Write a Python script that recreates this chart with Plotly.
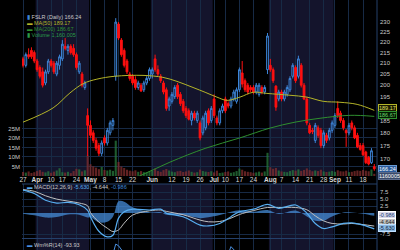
import math
import pandas as pd
import plotly.graph_objects as go

# ---------------- data ----------------
HOLIDAYS = ["2017-04-14", "2017-05-29", "2017-07-04", "2017-09-04"]
dates = [d.strftime("%Y-%m-%d") for d in pd.bdate_range("2017-03-27", "2017-09-22")
         if d.strftime("%Y-%m-%d") not in HOLIDAYS]

opens = [212, 209, 214, 216, 215, 211, 208, 206, 201, 206,
         211, 210, 205, 209, 212, 218, 216, 218, 217, 214,
         206, 205, 199, 187, 183, 180, 177, 175, 172, 178,
         176, 180, 183, 204, 229, 221, 216, 211, 205, 204,
         202.5, 199, 200, 198, 201, 203, 205, 212, 207, 204,
         201, 198, 191, 193, 195, 200, 196, 193, 190, 189,
         185, 188, 185, 184, 180, 182, 189, 185, 194, 186,
         184, 189, 194, 192, 191, 194, 193, 198, 205.5, 202,
         200, 199, 199, 197, 196, 199, 197, 207, 209, 207,
         199.6, 194, 197, 194, 196, 198, 204, 208, 204, 209,
         200, 194, 183, 181, 177, 182, 181, 175, 179, 178,
         181, 183, 190, 188, 185, 181, 180, 184, 182, 179,
         175, 175, 172.5, 170.5, 168.5, 167]
highs = [213, 215, 217, 217.5, 216, 212, 209, 208, 207, 212,
         212, 211, 211, 214, 221, 222, 219, 219, 219, 215,
         211, 206, 202, 190, 185, 181, 178, 176, 177, 179,
         182, 185, 186, 232, 230, 222, 217, 212, 206, 205,
         204, 202, 201, 202, 204, 208, 208, 214, 209, 205,
         202, 199, 195, 197, 200, 201, 197, 194, 191, 190,
         189, 189, 189, 185, 187, 189, 190, 191, 196, 187,
         190, 192, 195, 193, 195, 198, 199, 208, 211, 203,
         201, 200, 200, 201, 201, 200, 200, 224.5, 212, 208,
         200, 198, 198, 198, 200, 204, 210, 209, 213.5, 210,
         201, 195, 184, 182, 184, 183, 182, 181, 180, 182,
         185, 188, 193, 189, 186, 181.5, 184, 185, 183, 180,
         176, 176, 173, 171, 174, 168]
lows = [208, 208, 212, 212, 210, 206, 203, 199, 200, 205,
        208, 205, 204, 207, 211, 216, 214, 214, 213, 207,
        205, 199, 198, 171, 178, 176, 173, 171, 171, 175,
        175, 179, 181, 202, 221, 213, 208, 205, 202, 200,
        198, 198, 197, 197, 200, 202, 203, 206, 204, 201,
        196, 189, 189, 192, 194, 194, 191, 188, 186, 185,
        183, 185, 184, 177, 179, 181, 183, 184, 186, 183,
        183, 188, 188, 190, 190, 193, 192, 197, 199, 197,
        196, 197, 196, 196, 195, 196, 196, 205, 206, 201,
        189, 193, 193, 193, 195, 197, 203, 201, 203, 199,
        193.5, 183, 179.5, 179.5, 176, 178, 174, 174, 176, 177,
        180, 182, 186, 184, 181, 174.5, 179, 181, 177.5, 174,
        173, 171, 168, 167.5, 168, 165.5]
closes = [209, 214, 213, 213, 211, 207, 204, 200, 206, 211,
          209, 206, 210, 213, 219, 217, 218, 215, 214, 208,
          210, 200, 201, 183, 179, 177, 174, 172, 176, 176,
          181, 184, 185, 230, 222, 214, 209, 206, 203, 201,
          199, 201, 197.5, 201, 203, 207, 207, 207, 205, 202,
          197, 190, 194, 196, 199, 195, 192, 189, 187, 185.5,
          188, 186, 188, 178, 186, 188, 184, 190, 187, 184,
          189, 191, 189, 191, 194, 197, 198, 207, 200.5, 198,
          197, 198, 197, 200, 200, 197, 199, 223, 207, 202,
          190.5, 197, 194, 197, 199, 203, 209, 202, 212, 200,
          194, 184, 180, 180.5, 183, 179, 175, 180, 177, 181,
          184, 187, 187, 185, 182, 180, 183, 182, 178, 174.5,
          173.5, 171.5, 168.5, 168, 173, 166.24]
volumes_m = [2.1, 1.8, 2.4, 1.6, 2.0, 2.6, 3.1, 2.2, 1.9, 2.5,
             1.7, 2.3, 2.9, 4.1, 2.0, 1.8, 2.2, 1.5, 2.6, 3.8,
             3.5, 2.4, 3.0, 10.8, 6.2, 5.1, 4.4, 3.6, 4.8, 3.2,
             2.9, 3.3, 2.7, 18.6, 7.4, 5.0, 4.2, 3.3, 2.8, 2.5,
             3.0, 2.2, 2.6, 2.0, 1.9, 2.4, 2.8, 3.9, 2.6, 2.2,
             3.1, 3.7, 2.9, 2.3, 2.0, 2.5, 2.7, 2.1, 2.4, 2.9,
             2.2, 1.8, 2.0, 3.4, 2.6, 2.3, 2.1, 2.5, 1.9, 2.8,
             1.6, 1.8, 2.1, 2.4, 1.7, 2.0, 2.6, 3.9, 3.3, 2.5,
             2.2, 2.0, 1.7, 1.9, 2.3, 1.8, 2.4, 12.2, 4.6, 3.8,
             4.2, 2.9, 2.4, 2.2, 2.0, 2.6, 3.1, 2.8, 3.5, 2.7,
             3.2, 4.0, 3.1, 2.5, 2.9, 2.6, 3.3, 2.4, 2.1, 2.3,
             2.6, 2.2, 3.0, 2.5, 2.4, 2.8, 2.0, 2.2, 2.6, 2.9,
             2.7, 3.2, 2.8, 2.5, 3.4, 1.160005]

ma50_pos = [0, 10.7, 16.7, 21.4, 26.3, 32.7, 42.7, 49.8, 54.8, 60.5, 64.8, 69, 72.6,
            77.2, 81.9, 86.8, 95, 101, 106.8, 112.8, 118.9, 125]
ma50_vals = [184.3, 190.2, 196.6, 200.7, 202.7, 204.0, 204.4, 203.5, 201.7, 199.0, 196.9,
             194.8, 193.4, 194.8, 196.9, 196.4, 195.6, 194.8, 193.0, 192.6, 191.7, 189.17]
ma200_pos = [0, 20, 30, 40.6, 52.3, 64.8, 77.2, 87.9, 96.8, 105.7, 116.4, 125]
ma200_vals = [149.0, 155.0, 159.0, 163.2, 168.7, 173.9, 178.0, 181.9, 184.3, 185.9, 187.1, 186.67]

macd_pos = [0, 4, 8, 12, 16, 20, 23, 24, 27, 30, 32, 34, 36, 39, 45, 49, 51, 57, 63, 66,
            70, 74, 77, 82, 87, 91, 97, 101, 104, 107, 110, 114, 117, 121, 125]
macd_vals = [8.2, 7.0, 4.6, 3.6, 3.8, 3.0, 1.0, -1.3, -6.5, -8.5, -7.9, -1.8, 0.5, 1.4, 1.1,
             1.4, 0.0, -1.3, -4.3, -4.6, -3.7, -1.3, 0.5, 1.4, 3.1, 1.7, 2.9, 0.0, -3.7,
             -5.5, -4.9, -3.7, -3.5, -4.3, -5.63]
signal_vals = [8.4, 7.8, 6.2, 5.0, 4.3, 3.6, 2.6, 0.2, -3.2, -5.4, -6.6, -6.0, -3.6, -0.7, 0.8,
               1.1, 0.6, -0.6, -2.5, -3.1, -3.0, -1.8, -0.5, 0.9, 2.0, 2.0, 2.0, 1.2, -1.0,
               -2.8, -3.7, -3.9, -3.7, -4.1, -4.644]
hist_vals = [-0.2, -0.8, -1.6, -1.4, -0.5, -0.6, -1.6, -1.5, -3.3, -3.1, -1.3, 4.2, 4.1, 2.1,
             0.3, 0.3, -0.6, -0.7, -1.8, -1.5, -0.7, 0.5, 1.0, 0.5, 1.1, -0.3, 0.9, -1.2,
             -2.7, -2.7, -1.2, 0.2, 0.2, -0.2, -0.986]

wr_pos = [0, 28, 31, 33, 34, 36, 40, 70, 72, 74, 75, 77, 80, 125]
wr_vals = [-60, -95, -60, -12, -16, -45, -70, -80, -55, -18, -22, -50, -60, -93.93]

tick_dates = ["2017-03-27", "2017-04-03", "2017-04-10", "2017-04-17", "2017-04-24",
              "2017-05-01", "2017-05-08", "2017-05-15", "2017-05-22", "2017-06-01",
              "2017-06-12", "2017-06-19", "2017-06-26", "2017-07-03", "2017-07-10",
              "2017-07-17", "2017-07-24", "2017-08-01", "2017-08-07", "2017-08-14",
              "2017-08-21", "2017-08-28", "2017-09-01", "2017-09-11", "2017-09-18"]
tick_labels = ["27", "Apr", "10", "17", "24", "May", "8", "15", "22", "Jun", "12", "19", "26",
               "Jul", "10", "17", "24", "Aug", "7", "14", "21", "28", "Sep", "11", "18"]
month_bands = [("2017-04-03", "2017-04-28"), ("2017-06-01", "2017-06-30"),
               ("2017-08-01", "2017-08-31")]
price_ticks = [170, 175, 180, 185, 195, 200, 205, 210, 215, 220, 225, 230, 240]
vol_ticks_m = [5, 10, 15, 20, 25]
macd_ticks = [7.5, 5.0, 2.5, -7.5]

# ---------------- styling ----------------
BG = "#000000"
SHADE = "#14142c"
GRID = "#172a45"
BLUE = "#3d85d8"
RED = "#ff1010"
YELLOW = "#b4b428"
GREEN = "#2f8f2f"
TXT = "#c8c8c8"
FONT = "Liberation Sans"

n = len(dates)
idx = list(range(n))
XD = [22 / 400, 377 / 400]
XR = [-0.36, 125.97]

fig = go.Figure()

vol_colors = ["rgba(40,120,60,0.75)" if c >= o else "rgba(130,45,45,0.75)"
              for o, c in zip(opens, closes)]
fig.add_trace(go.Bar(x=idx, y=[v * 1e6 for v in volumes_m], marker=dict(color=vol_colors, line_width=0),
                     width=0.75, xaxis="x", yaxis="y", hoverinfo="skip"))

fig.add_trace(go.Candlestick(
    x=idx, open=opens, high=highs, low=lows, close=closes, xaxis="x", yaxis="y2",
    increasing=dict(line=dict(color=BLUE, width=1), fillcolor="rgba(0,0,0,0)"),
    decreasing=dict(line=dict(color=RED, width=1), fillcolor=RED),
    whiskerwidth=0))

fig.add_trace(go.Scatter(x=ma50_pos, y=ma50_vals, mode="lines", line=dict(color=YELLOW, width=1, shape="spline"),
                         xaxis="x", yaxis="y2"))
fig.add_trace(go.Scatter(x=ma200_pos, y=ma200_vals, mode="lines", line=dict(color=GREEN, width=1, shape="spline"),
                         xaxis="x", yaxis="y2"))

fig.add_trace(go.Scatter(x=macd_pos, y=hist_vals, mode="lines", line=dict(width=0, shape="spline"),
                         fill="tozeroy", fillcolor="rgba(70,140,215,0.75)", xaxis="x2", yaxis="y3"))
fig.add_trace(go.Scatter(x=macd_pos, y=signal_vals, mode="lines", line=dict(color="#c0c0c0", width=1, shape="spline"),
                         xaxis="x2", yaxis="y3"))
fig.add_trace(go.Scatter(x=macd_pos, y=macd_vals, mode="lines", line=dict(color="#58aef0", width=1.2, shape="spline"),
                         xaxis="x2", yaxis="y3"))

fig.add_trace(go.Scatter(x=wr_pos, y=wr_vals, mode="lines", line=dict(color="#4a90e0", width=1),
                         xaxis="x3", yaxis="y4"))

tickvals = [dates.index(d) for d in tick_dates]
ticktext = [f"<b>{t}</b>" if t.isalpha() else t for t in tick_labels]

shapes = []
for a, b in month_bands:
    for xr, yr in [("x", "y domain"), ("x2", "y3 domain"), ("x3", "y4 domain")]:
        shapes.append(dict(type="rect", xref=xr, yref=yr, x0=dates.index(a) - 0.5, x1=dates.index(b) + 0.5,
                           y0=0, y1=1, fillcolor=SHADE, line_width=0, layer="below"))
for ypx in [184, 238.5]:
    shapes.append(dict(type="line", xref="paper", yref="paper", x0=XD[0], x1=XD[1],
                       y0=1 - ypx / 250, y1=1 - ypx / 250, line=dict(color="#24406a", width=1)))
shapes.append(dict(type="line", xref="paper", yref="paper", x0=XD[1], x1=XD[1], y0=0, y1=1,
                   line=dict(color="#24406a", width=1)))

tf = dict(family=FONT, size=6, color=TXT)
axis_common = dict(showline=False, zeroline=False, ticks="", gridcolor=GRID, gridwidth=1)

fig.update_layout(
    width=400, height=250, margin=dict(l=0, r=0, t=0, b=0, autoexpand=False),
    paper_bgcolor=BG, plot_bgcolor=BG, showlegend=False, font=dict(family=FONT, size=6, color=TXT),
    boxgap=0.1,
    xaxis=dict(domain=XD, range=XR, anchor="y", tickmode="array", tickvals=tickvals, ticktext=ticktext,
               tickangle=0, showgrid=True, tickfont=dict(family=FONT, size=6.5, color="#d8d8d8"),
               rangeslider=dict(visible=False), ticklabelstandoff=-2, **axis_common),
    yaxis=dict(domain=[1 - 176 / 250, 1], range=[0, 92.6e6], side="left", anchor="x",
               tickmode="array", tickvals=[v * 1e6 for v in vol_ticks_m], ticktext=[f"{v}M" for v in vol_ticks_m],
               showgrid=True, tickfont=tf, ticklabelstandoff=1, **axis_common),
    yaxis2=dict(overlaying="y", side="right", anchor="x", type="log",
                range=[math.log10(163.6), math.log10(241.5)], tickmode="array", tickvals=price_ticks,
                ticktext=[str(t) for t in price_ticks], showgrid=False, tickfont=tf, ticklabelstandoff=2,
                **axis_common),
    xaxis2=dict(domain=XD, range=XR, anchor="y3", matches="x", tickmode="array", tickvals=tickvals,
                showticklabels=False, showgrid=True, **axis_common),
    yaxis3=dict(domain=[1 - 238 / 250, 1 - 184 / 250], range=[-8.9, 10.4], side="right", anchor="x2",
                tickmode="array", tickvals=macd_ticks, ticktext=[f"{t:.1f}" for t in macd_ticks],
                showgrid=True, tickfont=tf, ticklabelstandoff=2, **axis_common),
    xaxis3=dict(domain=XD, range=XR, anchor="y4", matches="x", tickmode="array", tickvals=tickvals,
                showticklabels=False, showgrid=True, **axis_common),
    yaxis4=dict(domain=[0, 1 - 239 / 250], range=[-26, 0], side="right", anchor="x3",
                showticklabels=False, showgrid=False, **axis_common),
    shapes=shapes,
)

anns = []


def leg(ypx, html):
    anns.append(dict(xref="paper", yref="paper", x=25 / 400, y=1 - ypx / 250, xanchor="left", yanchor="middle",
                     text=html, showarrow=False, font=dict(family=FONT, size=5.5, color=TXT)))


leg(17, f"<span style='color:{BLUE}'>▮</span> FSLR (Daily) {closes[-1]:.2f}")
leg(23, f"<span style='color:{YELLOW}'>▬ MA(50) {ma50_vals[-1]:.2f}</span>")
leg(29, f"<span style='color:{GREEN}'>▬ MA(200) {ma200_vals[-1]:.2f}</span>")
leg(35, f"<span style='color:#2a9a4a'>▮ Volume {int(round(volumes_m[-1] * 1e6)):,}</span>")
leg(187, f"<span style='color:#58aef0'>▬</span> MACD(12,26,9) <span style='color:#58aef0'>{macd_vals[-1]:.3f}</span>, "
         f"<span style='color:#d0d0d0'>{signal_vals[-1]:.3f}</span>, <span style='color:#3d85d8'>{hist_vals[-1]:.3f}</span>")
leg(245, f"<span style='color:#4a90e0'>▬</span> Wm%R(14) {wr_vals[-1]:.2f}")


def box(ypx, text, bg, border, color):
    anns.append(dict(xref="paper", yref="paper", x=378 / 400, y=1 - ypx / 250, xanchor="left", yanchor="middle",
                     text=text, showarrow=False, bgcolor=bg, bordercolor=border, borderwidth=1, borderpad=0,
                     font=dict(family=FONT, size=5.5, color=color)))


box(108.5, f"{ma50_vals[-1]:.2f}", "#1a1a00", YELLOW, "#e0e060")
box(115.5, f"{ma200_vals[-1]:.2f}", "#001a00", GREEN, "#70d070")
box(168.5, f"{closes[-1]:.2f}", "#2a5a9a", "#6a9ad0", "#ffffff")
box(175.5, f"{int(round(volumes_m[-1] * 1e6))}", "#3a4a6a", "#5a6a8a", "#ffffff")
box(215, f"{hist_vals[-1]:.3f}", "#d8d8e8", "#ffffff", "#1a3a7a")
box(221.6, f"{signal_vals[-1]:.3f}", "#c0c0c0", "#ffffff", "#202020")
box(228.2, f"{macd_vals[-1]:.3f}", "#8ab8e0", "#c0e0ff", "#102040")

fig.update_layout(annotations=anns)
fig.write_html("out.html")
